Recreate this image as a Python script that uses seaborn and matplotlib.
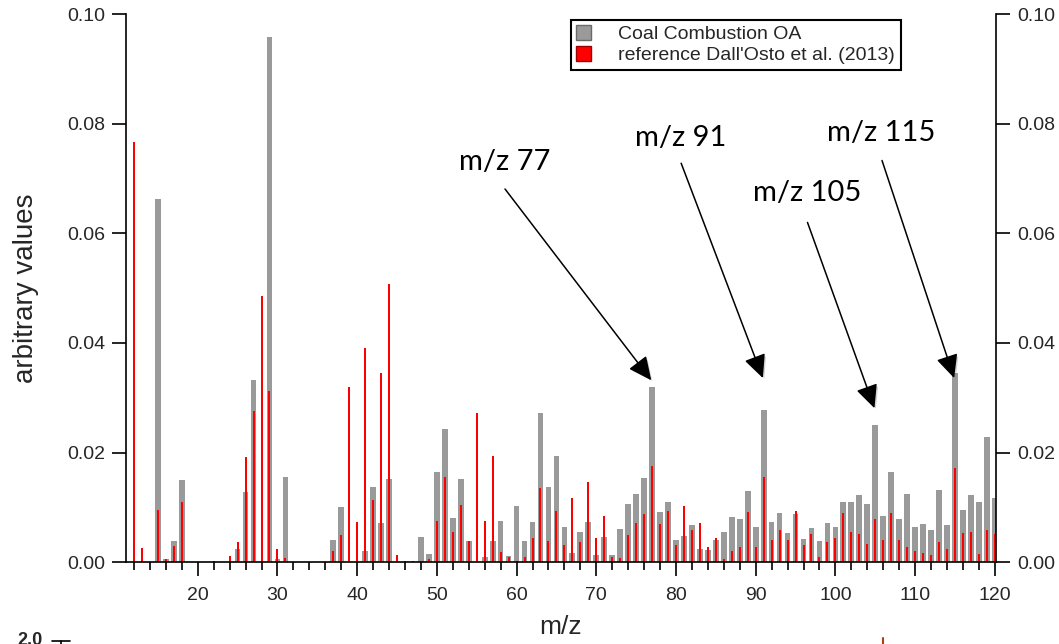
import numpy as np
import pandas as pd
import matplotlib
matplotlib.use("Agg")
import matplotlib.pyplot as plt
from matplotlib.patches import Patch
from matplotlib.ticker import MultipleLocator, FormatStrFormatter
import matplotlib.patheffects as pe
import seaborn as sns

# ---------------- data ----------------
mz = list(range(12, 121))

coal_oa = [
    0.0, 0.0, 0.0, 0.0663, 0.0006, 0.0038, 0.0150, 0.0, 0.0,             # 12-20
    0.0, 0.0, 0.0, 0.0, 0.0024, 0.0129, 0.0332, 0.0, 0.0959, 0.0005,     # 21-30
    0.0156, 0.0, 0.0, 0.0, 0.0, 0.0, 0.0041, 0.0100, 0.0, 0.0,           # 31-40
    0.0020, 0.0138, 0.0071, 0.0152, 0.0, 0.0, 0.0, 0.0046, 0.0015, 0.0164,  # 41-50
    0.0243, 0.0081, 0.0152, 0.0039, 0.0, 0.0010, 0.0039, 0.0075, 0.0012, 0.0102,  # 51-60
    0.0039, 0.0074, 0.0272, 0.0138, 0.0194, 0.0065, 0.0017, 0.0056, 0.0074, 0.0014,  # 61-70
    0.0046, 0.0013, 0.0060, 0.0106, 0.0124, 0.0154, 0.0320, 0.0091, 0.0110, 0.0041,  # 71-80
    0.0047, 0.0067, 0.0025, 0.0023, 0.0040, 0.0055, 0.0083, 0.0079, 0.0130, 0.0065,  # 81-90
    0.0277, 0.0074, 0.0090, 0.0054, 0.0088, 0.0043, 0.0063, 0.0038, 0.0071, 0.0065,  # 91-100
    0.0110, 0.0109, 0.0123, 0.0107, 0.0251, 0.0085, 0.0165, 0.0078, 0.0124, 0.0064,  # 101-110
    0.0070, 0.0059, 0.0132, 0.0068, 0.0345, 0.0096, 0.0123, 0.0110, 0.0228, 0.0118,  # 111-120
]

dallosto = [
    0.0766, 0.0026, 0.0, 0.0095, 0.0005, 0.0029, 0.0110, 0.0, 0.0,       # 12-20
    0.0001, 0.0002, 0.0, 0.0011, 0.0037, 0.0192, 0.0275, 0.0486, 0.0312, 0.0024,  # 21-30
    0.0008, 0.0, 0.0, 0.0, 0.0, 0.0, 0.0021, 0.0050, 0.0320, 0.0074,     # 31-40
    0.0390, 0.0114, 0.0346, 0.0507, 0.0013, 0.0003, 0.0002, 0.0, 0.0006, 0.0076,  # 41-50
    0.0155, 0.0056, 0.0105, 0.0038, 0.0272, 0.0075, 0.0193, 0.0018, 0.0009, 0.0003,  # 51-60
    0.0010, 0.0045, 0.0136, 0.0039, 0.0093, 0.0032, 0.0118, 0.0037, 0.0147, 0.0044,  # 61-70
    0.0084, 0.0010, 0.0008, 0.0049, 0.0072, 0.0088, 0.0175, 0.0070, 0.0093, 0.0031,  # 71-80
    0.0103, 0.0058, 0.0072, 0.0028, 0.0045, 0.0005, 0.0021, 0.0027, 0.0092, 0.0027,  # 81-90
    0.0156, 0.0040, 0.0059, 0.0040, 0.0093, 0.0032, 0.0051, 0.0009, 0.0037, 0.0045,  # 91-100
    0.0089, 0.0055, 0.0051, 0.0034, 0.0079, 0.0041, 0.0090, 0.0041, 0.0027, 0.0020,  # 101-110
    0.0016, 0.0013, 0.0037, 0.0024, 0.0171, 0.0054, 0.0055, 0.0015, 0.0059, 0.0052,  # 111-120
]

series_labels = ["Coal Combustion OA", "reference Dall'Osto et al. (2013)"]
annot_mz = [77, 91, 105, 115]
annot_labels = ["m/z 77", "m/z 91", "m/z 105", "m/z 115"]

y_ticks = [0.00, 0.02, 0.04, 0.06, 0.08, 0.10]
x_major = [20, 30, 40, 50, 60, 70, 80, 90, 100, 110, 120]

df = pd.DataFrame({"mz": mz, "coal": coal_oa, "ref": dallosto})

# ---------------- style ----------------
sns.set_style("ticks")
plt.rcParams["font.family"] = ["Liberation Sans", "DejaVu Sans"]

GREY = "#9a9a9a"
RED = "#ff0000"

fig = plt.figure(figsize=(10.59, 6.44), dpi=100)
ax = fig.add_axes([0.119, 0.127, 0.8215, 0.851])

sns.barplot(data=df, x="mz", y="coal", native_scale=True, width=0.72,
            color=GREY, saturation=1, errorbar=None, linewidth=0, ax=ax)
sns.barplot(data=df, x="mz", y="ref", native_scale=True, width=0.25,
            color=RED, saturation=1, errorbar=None, linewidth=0, ax=ax)

ax.set_xlim(11.0, 120.15)
ax.set_ylim(0, 0.10)

ax.set_xticks(x_major)
ax.set_xticklabels([str(v) for v in x_major])
ax.xaxis.set_minor_locator(MultipleLocator(2))
ax.set_yticks(y_ticks)
ax.yaxis.set_major_formatter(FormatStrFormatter("%.2f"))

ax.tick_params(axis="both", which="major", length=10, width=1.2,
               labelsize=14, color="black", direction="out", pad=5)
ax.tick_params(axis="x", which="major", pad=8)
ax.tick_params(axis="x", which="minor", length=5.5, width=1.2, color="black")
ax.tick_params(axis="y", which="both", right=True, labelright=True)

for side in ["left", "bottom", "right"]:
    ax.spines[side].set_visible(True)
    ax.spines[side].set_linewidth(1.2)
    ax.spines[side].set_color("black")
ax.spines["top"].set_visible(False)

ax.set_xlabel("m/z", fontsize=19, labelpad=8)
ax.set_ylabel("arbitrary values", fontsize=20, labelpad=20)

# legend
handles = [Patch(facecolor=GREY, edgecolor="#6a6a6a", linewidth=1),
           Patch(facecolor=RED, edgecolor="#a00000", linewidth=1)]
leg = ax.legend(handles, series_labels, loc="upper left",
                bbox_to_anchor=(0.511, 0.99), fontsize=14, frameon=True,
                fancybox=False, edgecolor="black", framealpha=1,
                handlelength=0.75, handleheight=0.75, handletextpad=1.4,
                borderpad=0.3, labelspacing=0.15, borderaxespad=0)
leg.get_frame().set_linewidth(1.5)

# annotations (text position, arrow tip above the bar)
text_pos = [(58.5, 0.0730), (80.6, 0.0774), (96.45, 0.0673), (105.8, 0.0783)]
tail_pos = [(58.55, 0.0681), (80.65, 0.0728), (96.5, 0.0620), (105.85, 0.0733)]
tip_y = [0.0332, 0.0336, 0.0281, 0.0336]
shadow = [pe.withSimplePatchShadow(offset=(1.5, -1.5), shadow_rgbFace="0.5", alpha=0.35)]
for m, lab, tp, tl, ty in zip(annot_mz, annot_labels, text_pos, tail_pos, tip_y):
    ax.text(tp[0], tp[1], lab, ha="center", va="center", fontsize=21,
            family=["Lato", "DejaVu Sans"], color="black")
    arr = ax.annotate("", xy=(m - 0.1, ty), xytext=tl,
                      arrowprops=dict(arrowstyle="-|>,head_length=0.55,head_width=0.26",
                                      mutation_scale=26, color="black", lw=1.1,
                                      shrinkA=0, shrinkB=0))
    arr.arrow_patch.set_path_effects(shadow)

# remnants of the panel below (cut off at the bottom edge)
fig.text(17 / 1059, 1 - 632 / 644, "2.0", fontsize=13, fontweight="bold",
         ha="left", va="top")
fig.add_artist(plt.Line2D([52 / 1059, 70 / 1059], [1 - 641 / 644, 1 - 641 / 644],
                          color="black", lw=1.2))
fig.add_artist(plt.Line2D([61 / 1059, 61 / 1059], [1 - 641 / 644, 0],
                          color="black", lw=1.2))
fig.add_artist(plt.Line2D([883 / 1059, 883 / 1059], [1 - 638 / 644, 0],
                          color="#b04010", lw=1.5))

fig.savefig("out.png", dpi=100)
